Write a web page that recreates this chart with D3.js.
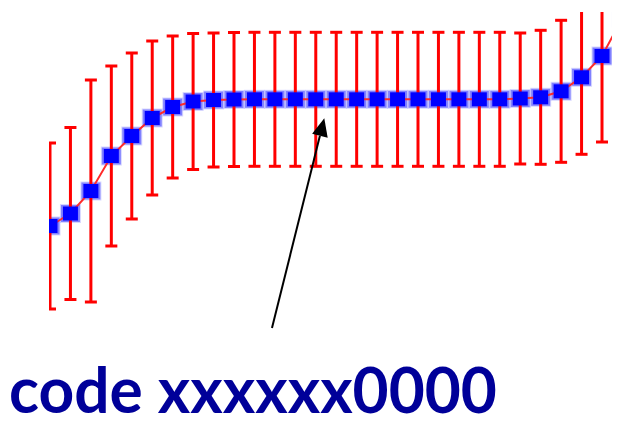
<!DOCTYPE html>
<html>
<head>
<meta charset="utf-8">
<script src="https://cdn.jsdelivr.net/npm/d3@7"></script>
<style>
  html, body { margin: 0; padding: 0; background: #ffffff; }
  svg { display: block; }
</style>
</head>
<body>
<svg id="chart" width="624" height="425"></svg>
<script>
// Sample positions (index along the scan)
const positions = [0, 1, 2, 3, 4, 5, 6, 7, 8, 9, 10, 11, 12, 13, 14, 15, 16, 17, 18, 19,
                   20, 21, 22, 23, 24, 25, 26, 27, 28];
// Measured mean at each position
const means = [186, 198.5, 221, 256, 276, 294, 305, 310.5, 312, 312.5, 312.7, 312.7, 312.7, 312.7,
               312.7, 312.7, 312.7, 312.7, 312.7, 312.7, 312.7, 312.7, 312.7, 313.5, 314.7, 320.7,
               334.7, 356, 394];
// Half-width of the error bar at each position
const errors = [83, 86, 111, 90, 83, 77, 71, 68, 67, 67, 67, 67, 67, 67,
                67, 67, 67, 67, 67, 67, 67, 67, 67, 65.5, 67, 71,
                77, 86, 90];
const annotationIndex = 13;
const captionText = "code xxxxxx0000";

const svg = d3.select("#chart");

const x = d3.scaleLinear().domain([0, 27]).range([50, 602]);
const y = d3.scaleLinear().domain([0, 400]).range([412, 12]);

const defs = svg.append("defs");
defs.append("clipPath").attr("id", "plotClip")
  .append("rect").attr("x", 49).attr("y", 12).attr("width", 563).attr("height", 320);

const data = positions.map((p, i) => ({ p, m: means[i], e: errors[i] }));

const plot = svg.append("g").attr("clip-path", "url(#plotClip)");

// marker halos (two translucent layers)
plot.selectAll("rect.halo2").data(data).join("rect").attr("class", "halo2")
  .attr("x", d => x(d.p) - 10.5).attr("y", d => y(d.m) - 9.5)
  .attr("width", 21).attr("height", 19)
  .attr("fill", "#0000ff").attr("opacity", 0.16);
plot.selectAll("rect.halo").data(data).join("rect").attr("class", "halo")
  .attr("x", d => x(d.p) - 9.5).attr("y", d => y(d.m) - 8.5)
  .attr("width", 19).attr("height", 17)
  .attr("fill", "#0000ff").attr("opacity", 0.4);

// connecting line
plot.append("path")
  .datum(data)
  .attr("fill", "none")
  .attr("stroke", "#ff2a2a")
  .attr("stroke-width", 2)
  .attr("d", d3.line().x(d => x(d.p)).y(d => y(d.m)));

// error bars
const eb = plot.append("g").attr("stroke", "#ff0000").attr("stroke-width", 3);
eb.selectAll("line.v").data(data).join("line").attr("class", "v")
  .attr("x1", d => x(d.p)).attr("x2", d => x(d.p))
  .attr("y1", d => y(d.m + d.e)).attr("y2", d => y(d.m - d.e));
eb.selectAll("line.top").data(data).join("line").attr("class", "top")
  .attr("x1", d => x(d.p) - 6).attr("x2", d => x(d.p) + 6)
  .attr("y1", d => y(d.m + d.e)).attr("y2", d => y(d.m + d.e));
eb.selectAll("line.bot").data(data).join("line").attr("class", "bot")
  .attr("x1", d => x(d.p) - 6).attr("x2", d => x(d.p) + 6)
  .attr("y1", d => y(d.m - d.e)).attr("y2", d => y(d.m - d.e));

// solid square markers
plot.selectAll("rect.mk").data(data).join("rect").attr("class", "mk")
  .attr("x", d => x(d.p) - 7.5).attr("y", d => y(d.m) - 7)
  .attr("width", 15).attr("height", 14)
  .attr("fill", "#0000ff");

// annotation arrow
const target = data[annotationIndex];
const tip = [x(target.p) + 8.5, y(target.m) + 19];
const tail = [272, 328];
const ang = Math.atan2(tip[1] - tail[1], tip[0] - tail[0]);
const headLen = 18, headHalf = 8;
const base = [tip[0] - headLen * Math.cos(ang), tip[1] - headLen * Math.sin(ang)];
svg.append("line")
  .attr("x1", tail[0]).attr("y1", tail[1])
  .attr("x2", base[0]).attr("y2", base[1])
  .attr("stroke", "#000").attr("stroke-width", 2);
svg.append("polygon")
  .attr("points", [
    tip,
    [base[0] + headHalf * Math.sin(ang), base[1] - headHalf * Math.cos(ang)],
    [base[0] - headHalf * Math.sin(ang), base[1] + headHalf * Math.cos(ang)]
  ].map(p => p.join(",")).join(" "))
  .attr("fill", "#000");

// caption, sized so its run spans the intended width
const caption = svg.append("text")
  .attr("x", 9).attr("y", 413)
  .attr("font-family", "Lato, 'Open Sans', sans-serif")
  .attr("font-weight", "bold")
  .attr("font-size", 64)
  .attr("fill", "#000099")
  .text(captionText);
const natural = caption.node().getComputedTextLength();
const fitted = Math.min(70, 64 * 488 / natural);
caption.attr("font-size", fitted);
const w2 = caption.node().getComputedTextLength();
if (Math.abs(w2 - 488) > 2) {
  caption.attr("transform", `translate(9,413) scale(${488 / w2},1) translate(-9,-413)`);
}
</script>
</body>
</html>
